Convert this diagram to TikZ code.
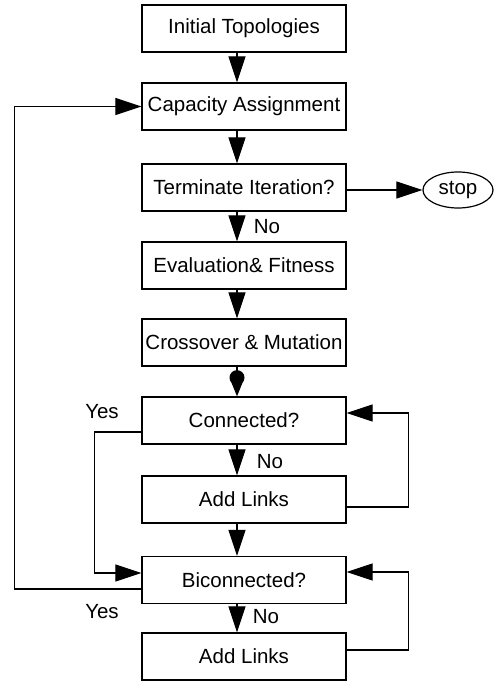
\documentclass[tikz,border=0pt]{standalone}
\usepackage{fontspec}
\setmainfont{Liberation Sans}
\usetikzlibrary{arrows.meta,shapes.geometric}
\begin{document}
\begin{tikzpicture}[x=1pt,y=-1pt]
\tikzstyle{every node}+=[font=\fontsize{20.5}{24}\selectfont]
\tikzstyle{box}=[draw=black,line width=1.3pt,minimum width=204pt,minimum height=47pt,inner sep=0pt]
\tikzstyle{arr}=[black,line width=1.1pt,-{Triangle[length=26pt,width=17pt]}]
\useasboundingbox (0,0) rectangle (497,682);
% main column
\node [box] (init) at (244,28.5) {Initial Topologies};
\node [box] (cap) at (244,106.5) {Capacity Assignment};
\node [box] (term) at (244,187.5) {Terminate Iteration?};
\node [box] (eval) at (244,265.5) {Evaluation\& Fitness};
\node [box] (cross) at (244,342.5) {Crossover \& Mutation};
\node [box] (conn) at (244,420.5) {Connected?};
\node [box] (add1) at (244,499.5) {Add Links};
\node [box] (bicon) at (244,580) {Biconnected?};
\node [box] (add2) at (244,656.5) {Add Links};
\node [draw=black,line width=1.2pt,ellipse,minimum width=70pt,minimum height=36pt,inner sep=0pt] (stop) at (458,190) {stop};
% labels
\node (no1) at (267,227) {No};
\node (no2) at (270,462) {No};
\node (no3) at (266,617) {No};
\node (yes1) at (102,412) {Yes};
\node (yes2) at (102,612) {Yes};
% arrows down
\draw [arr] ([xshift=-7pt]init.south) -- ([xshift=-7pt]cap.north);
\draw [arr] ([xshift=-7pt]cap.south) -- ([xshift=-7pt]term.north);
\draw [arr] ([xshift=-7pt]term.south) -- ([xshift=-7pt]eval.north);
\draw [arr] ([xshift=-7pt]eval.south) -- ([xshift=-7pt]cross.north);
\draw [black,line width=1.1pt,-{Triangle[length=14pt,width=11pt]}] ([xshift=-7pt]cross.south) -- ([xshift=-7pt]conn.north);
\fill [black] ([xshift=-7pt,yshift=-11pt]cross.south) circle (7.5pt);
\draw [arr] ([xshift=-7pt]conn.south) -- ([xshift=-7pt]add1.north);
\draw [arr] ([xshift=-7pt]add1.south) -- ([xshift=-7pt]bicon.north);
\draw [arr] ([xshift=-7pt]bicon.south) -- ([xshift=-7pt]add2.north);
\draw [arr] (term.east |- stop.west) -- (stop.west);
% loops
\draw [arr] ([yshift=-11.5pt]conn.west) -- ++(-47,0) |- ([yshift=7pt]bicon.west);
\draw [arr] ([yshift=-9pt]bicon.west) -- ++(-127,0) |- (cap.west);
\draw [arr] ([yshift=-7.5pt]add1.east) -- ++(62,0) |- ([yshift=7.5pt]conn.east);
\draw [arr] ([yshift=6.5pt]add2.east) -- ++(62,0) |- ([yshift=8pt]bicon.east);
\end{tikzpicture}
\end{document}
